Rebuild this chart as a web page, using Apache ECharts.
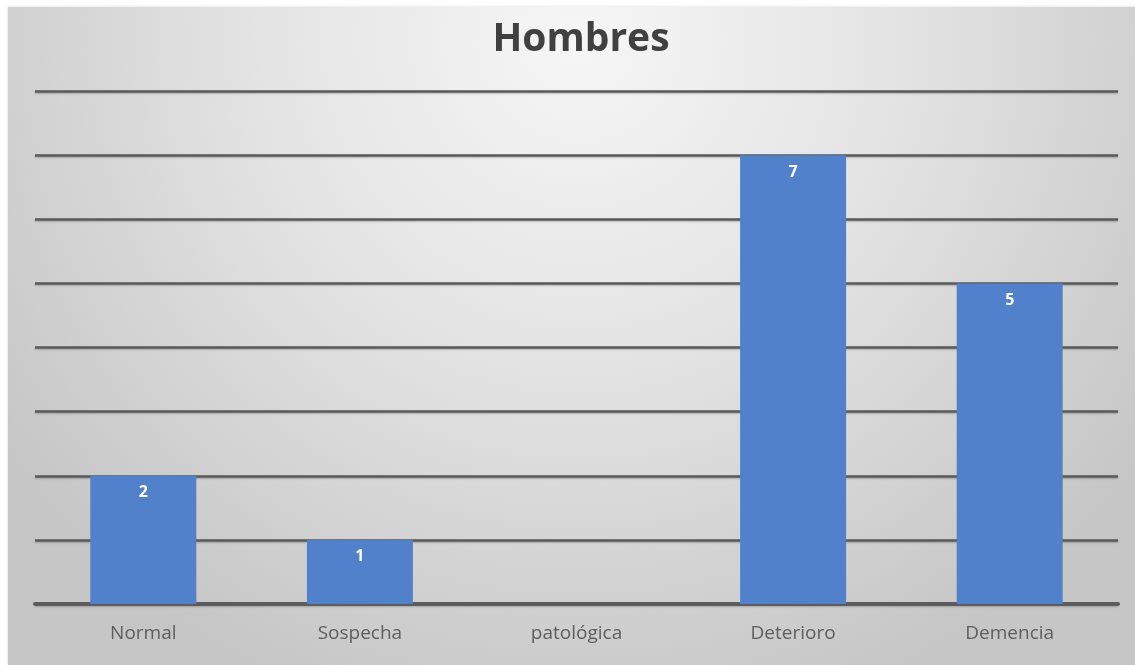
<!DOCTYPE html>
<html>
<head>
<meta charset="utf-8">
<script src="https://cdn.jsdelivr.net/npm/echarts@6/dist/echarts.min.js"></script>
<style>
  html, body { margin: 0; padding: 0; background: #ffffff; }
  #chart { width: 1135px; height: 665px; }
</style>
</head>
<body>
<div id="chart"></div>
<script>
// Chart data
const chartTitle = 'Hombres';
const categories = ['Normal', 'Sospecha', 'patológica', 'Deterioro', 'Demencia'];
const values = [2, 1, 0, 7, 5];
const axisMax = 8;
const axisStep = 1;

const chart = echarts.init(document.getElementById('chart'), null, { renderer: 'canvas' });

chart.setOption({
  backgroundColor: '#ffffff',
  animation: false,
  graphic: [{
    // grey panel behind the plot, lighter towards the top centre
    type: 'rect',
    z: -10,
    silent: true,
    shape: { x: 8, y: 7, width: 1140, height: 670 },
    style: {
      fill: {
        type: 'radial', x: 0.5, y: 0.05, r: 1.05,
        colorStops: [
          { offset: 0, color: '#f6f6f6' },
          { offset: 0.45, color: '#e4e4e4' },
          { offset: 1, color: '#c6c6c6' }
        ]
      },
      shadowBlur: 3,
      shadowColor: 'rgba(0,0,0,0.15)'
    }
  }],
  title: {
    text: chartTitle,
    left: 576,
    textAlign: 'center',
    top: 15,
    textStyle: {
      fontFamily: 'Open Sans',
      fontWeight: 'bold',
      fontSize: 39,
      color: '#404040'
    }
  },
  grid: { left: 35, right: 17, top: 91, bottom: 61, containLabel: false },
  xAxis: {
    type: 'category',
    data: categories,
    axisLine: { show: true, lineStyle: { color: '#5c5c5c', width: 4 } },
    axisTick: { show: false },
    axisLabel: {
      margin: 20,
      fontFamily: 'Open Sans',
      fontSize: 19,
      color: '#5e5e5e'
    }
  },
  yAxis: {
    type: 'value',
    min: 0,
    max: axisMax,
    interval: axisStep,
    axisLabel: { show: false },
    axisLine: { show: false },
    axisTick: { show: false },
    splitLine: {
      lineStyle: {
        color: '#5a5a5a',
        width: 2.5,
        shadowColor: 'rgba(0,0,0,0.25)',
        shadowBlur: 2,
        shadowOffsetY: 1
      }
    }
  },
  series: [{
    type: 'bar',
    data: values,
    barWidth: 106,
    itemStyle: { color: '#5281cc' },
    label: {
      show: true,
      position: 'insideTop',
      distance: 9,
      formatter: p => (p.value > 0 ? p.value : ''),
      fontFamily: 'Open Sans',
      fontWeight: 'bold',
      fontSize: 16,
      color: '#ffffff'
    }
  }]
});
</script>
</body>
</html>
